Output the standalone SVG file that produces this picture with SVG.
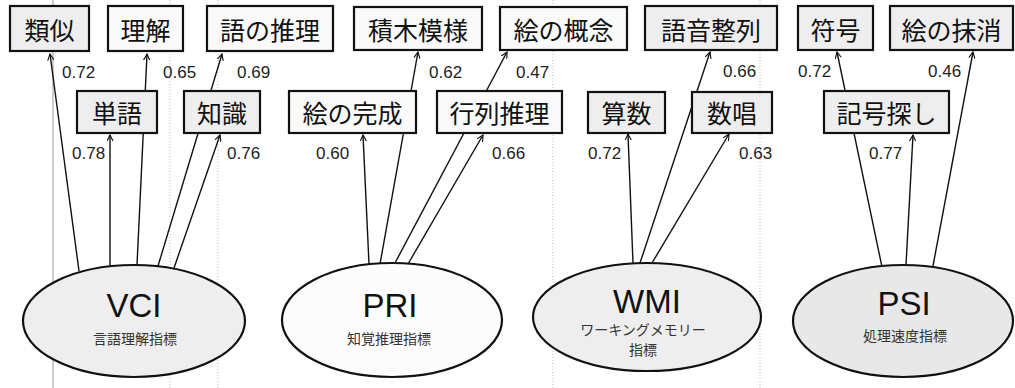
<svg xmlns="http://www.w3.org/2000/svg" width="1015" height="388" viewBox="0 0 1015 388">
<style>
.box{stroke:#111;stroke-width:2.2;}
.g{fill:#eeeeee;}
.w{fill:#fafafa;}
.bt{font-family:"Noto Sans CJK JP","Liberation Sans",sans-serif;font-size:25px;fill:#111;text-anchor:middle;dominant-baseline:central;}
.num{font-family:"Liberation Sans",Arial,sans-serif;font-size:17px;fill:#222;dominant-baseline:central;}
.ell{stroke:#111;stroke-width:2.2;}
.big{font-family:"Liberation Sans",Arial,sans-serif;font-size:33px;fill:#111;text-anchor:middle;}
.sub{font-family:"Noto Sans CJK JP",sans-serif;font-size:14px;fill:#333;text-anchor:middle;}
.con line{stroke:#111;stroke-width:1.4;marker-end:url(#ah);}
.grid{stroke:#999;stroke-width:1;}
.dot{stroke:#bbb;stroke-width:1;stroke-dasharray:1 2;}
</style>
<defs>
<marker id="ah" viewBox="0 0 10 10" refX="9" refY="5" markerWidth="7" markerHeight="7" orient="auto" markerUnits="userSpaceOnUse">
<path d="M0,0.5 L9,5 L0,9.5" fill="none" stroke="#111" stroke-width="1.6"/>
</marker>
</defs>
<rect width="1015" height="388" fill="#ffffff"/>
<g id="gridlines">
<line class="grid" x1="53" y1="0" x2="53" y2="388"/>
<line class="dot" x1="170" y1="0" x2="170" y2="388"/>
<line class="dot" x1="218" y1="0" x2="218" y2="388"/>
<line class="dot" x1="553" y1="0" x2="553" y2="388"/>
<line class="dot" x1="760" y1="0" x2="760" y2="388"/>
</g>
<g id="connectors" class="con">
<line x1="79" y1="271" x2="50" y2="54"/>
<line x1="110" y1="266" x2="110" y2="135"/>
<line x1="137" y1="265" x2="147" y2="54"/>
<line x1="158" y1="266" x2="222" y2="54"/>
<line x1="174" y1="268" x2="220" y2="135"/>
<line x1="369" y1="264" x2="363" y2="135"/>
<line x1="380" y1="264" x2="418" y2="52"/>
<line x1="395" y1="263" x2="507" y2="52"/>
<line x1="408" y1="264" x2="483" y2="135"/>
<line x1="633" y1="263" x2="628" y2="134"/>
<line x1="640" y1="263" x2="710" y2="52"/>
<line x1="652" y1="263" x2="729" y2="134"/>
<line x1="882" y1="267" x2="837" y2="52"/>
<line x1="906" y1="265" x2="913" y2="135"/>
<line x1="933" y1="266" x2="973" y2="52"/>
</g>
<g id="n-ruiji"><rect class="box g" x="10" y="6" width="79" height="45"/><text class="bt" x="49.5" y="29">類似</text></g>
<g id="n-rikai"><rect class="box w" x="108" y="6" width="75" height="45"/><text class="bt" x="145.5" y="29">理解</text></g>
<g id="n-gosuiri"><rect class="box w" x="207" y="6" width="126" height="45"/><text class="bt" x="270" y="29">語の推理</text></g>
<g id="n-tsumiki"><rect class="box w" x="354" y="7" width="128" height="43"/><text class="bt" x="418" y="29">積木模様</text></g>
<g id="n-gainen"><rect class="box w" x="500" y="7" width="127" height="43"/><text class="bt" x="563.5" y="29">絵の概念</text></g>
<g id="n-goon"><rect class="box g" x="645" y="6" width="132" height="44"/><text class="bt" x="711" y="29">語音整列</text></g>
<g id="n-fugo"><rect class="box g" x="798" y="6" width="75" height="44"/><text class="bt" x="835.5" y="29">符号</text></g>
<g id="n-massho"><rect class="box g" x="890" y="6" width="123" height="44"/><text class="bt" x="951.5" y="29">絵の抹消</text></g>
<g id="n-tango"><rect class="box g" x="77" y="91" width="80" height="42"/><text class="bt" x="117" y="112">単語</text></g>
<g id="n-chishiki"><rect class="box g" x="184" y="91" width="76" height="42"/><text class="bt" x="222" y="112">知識</text></g>
<g id="n-kansei"><rect class="box w" x="289" y="91" width="127" height="42"/><text class="bt" x="352.5" y="112">絵の完成</text></g>
<g id="n-gyoretsu"><rect class="box w" x="437" y="91" width="125" height="42"/><text class="bt" x="499.5" y="112">行列推理</text></g>
<g id="n-sansu"><rect class="box g" x="588" y="92" width="77" height="41"/><text class="bt" x="626.5" y="112">算数</text></g>
<g id="n-sussho"><rect class="box g" x="692" y="92" width="80" height="41"/><text class="bt" x="732" y="112">数唱</text></g>
<g id="n-kigo"><rect class="box g" x="824" y="91" width="125" height="42"/><text class="bt" x="886.5" y="112">記号探し</text></g>
<g id="labels">
<text class="num" x="62" y="72">0.72</text>
<text class="num" x="163" y="72">0.65</text>
<text class="num" x="237" y="72">0.69</text>
<text class="num" x="429" y="72">0.62</text>
<text class="num" x="516" y="72">0.47</text>
<text class="num" x="723" y="71">0.66</text>
<text class="num" x="798" y="71">0.72</text>
<text class="num" x="928" y="71">0.46</text>
<text class="num" x="72" y="153">0.78</text>
<text class="num" x="227" y="153">0.76</text>
<text class="num" x="316" y="153">0.60</text>
<text class="num" x="492" y="153">0.66</text>
<text class="num" x="588" y="153">0.72</text>
<text class="num" x="739" y="153">0.63</text>
<text class="num" x="869" y="153">0.77</text>
</g>
<g id="n-vci"><ellipse class="ell" cx="134" cy="321" rx="111" ry="56" fill="#eeeeee"/><text class="big" x="134" y="317">VCI</text><text class="sub" x="135" y="344">言語理解指標</text></g>
<g id="n-pri"><ellipse class="ell" cx="392" cy="320" rx="110" ry="57" fill="#fcfcfc"/><text class="big" x="390" y="317">PRI</text><text class="sub" x="389" y="344">知覚推理指標</text></g>
<g id="n-wmi"><ellipse class="ell" cx="647" cy="317" rx="114" ry="54" fill="#eeeeee"/><text class="big" x="647" y="313">WMI</text><text class="sub" x="643" y="335">ワーキングメモリー</text><text class="sub" x="643" y="355">指標</text></g>
<g id="n-psi"><ellipse class="ell" cx="903" cy="321" rx="110" ry="56" fill="#e8e8e8"/><text class="big" x="904" y="315">PSI</text><text class="sub" x="905" y="341">処理速度指標</text></g>
</svg>
